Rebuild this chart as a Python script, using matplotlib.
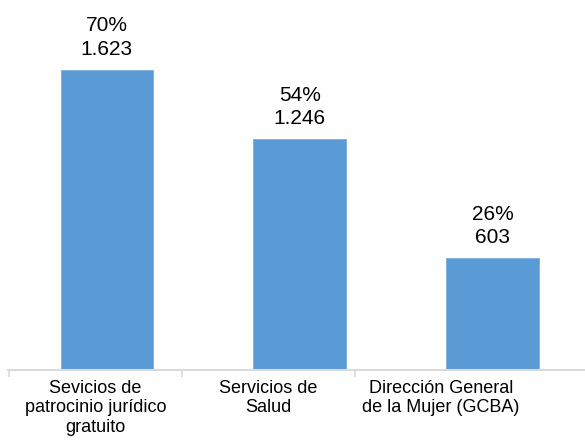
import matplotlib.pyplot as plt

# ===== DATA =====
categories = ["Sevicios de\npatrocinio jurídico\ngratuito", "Servicios de\nSalud",
              "Dirección General\nde la Mujer (GCBA)"]
values = [1623, 1246, 603]
percents = ["70%", "54%", "26%"]
separators = [-0.508, 0.389, 1.285, 2.182]

plt.rcParams['font.family'] = ['Liberation Sans', 'DejaVu Sans']

fig = plt.figure(figsize=(5.85, 4.45), dpi=100)
ax = fig.add_axes([8 / 585, 75 / 445, 577 / 585, 370 / 445])

x = list(range(len(values)))
bars = ax.bar(x, values, width=0.48, color="#5B9BD5", edgecolor="#7AAEDD", linewidth=0.6)

for xi, v, p in zip(x, values, percents):
    label = f"{p}\n{v:,}".replace(",", ".")
    ax.annotate(label, (xi, v), xytext=(0, 8), textcoords="offset points",
                ha="center", va="bottom", fontsize=15, linespacing=1.3)

# category labels sit centred between the separator ticks
label_pos = [(a + b) / 2 for a, b in zip(separators[:-1], separators[1:])]

ax.set_xlim(-0.513, 2.48)
ax.set_ylim(0, 2000)
ax.set_xticks(label_pos)
ax.set_xticklabels(categories, fontsize=13, linespacing=1.2)
ax.tick_params(axis="x", which="major", length=0, pad=7)
ax.set_xticks(separators[:-1], minor=True)
ax.tick_params(axis="x", which="minor", length=5, color="#d9d9d9", width=1.2)
ax.set_yticks([])

for s in ["top", "right", "left"]:
    ax.spines[s].set_visible(False)
ax.spines["bottom"].set_color("#d9d9d9")
ax.spines["bottom"].set_linewidth(1.5)

fig.savefig("out.png", dpi=100)
